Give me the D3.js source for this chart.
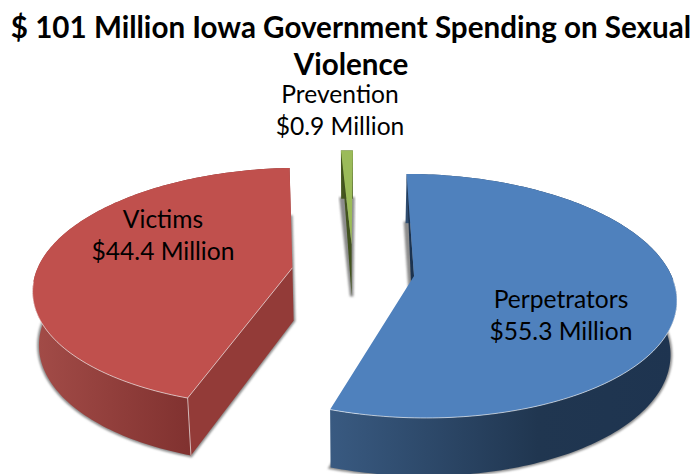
<!DOCTYPE html>
<html>
<head>
<meta charset="utf-8">
<script src="https://cdn.jsdelivr.net/npm/d3@7"></script>
<style>
  html, body { margin: 0; padding: 0; background: #fff; }
  text { font-family: Lato, "Open Sans", sans-serif; fill: #000; }
</style>
</head>
<body>
<svg id="chart" width="696" height="474"></svg>
<script>
// values as printed on the chart, in millions of dollars
var categories = ['Perpetrators', 'Victims', 'Prevention'];
var spending = [55.3, 44.4, 0.9];
var spendingLabels = ['$55.3 Million', '$44.4 Million', '$0.9 Million'];
var titleLines = ['$ 101 Million Iowa Government Spending on Sexual', 'Violence'];

var topColors = ['#4f81bd', '#c0504d', '#9bbb59'];
var wallStops = [
  [[0, '#395a81'], [0.6, '#203650'], [1, '#1e3450']],
  [[0, '#a34c48'], [0.6, '#813230'], [1, '#813230']],
  [[0, '#46581f'], [1, '#3c4c1b']]
];
var cutColors = ['#1c3350', '#933b38', '#41521e'];

// perspective pie settings
var cx = 353, cy = 271.5, radius = 256, yScale = 117.3, tilt = 0.162;
var explode = 0.24, depth = 53, shrink = 0.02, rotation = 0.005;

var svg = d3.select('#chart');
var defs = svg.append('defs');

defs.append('filter').attr('id', 'soft')
  .attr('x', '-20%').attr('y', '-20%').attr('width', '140%').attr('height', '140%')
  .append('feGaussianBlur').attr('stdDeviation', 1.3);

// u, v are in radius units on the pie plane, h=0 top face, h=1 bottom face
function project(u, v, h) {
  var s = 1 / (1 - tilt * v);
  return [
    cx + u * radius * s * (1 - shrink * h),
    cy + yScale * v * s + h * depth * Math.sqrt(s)
  ];
}

var pie = d3.pie().sort(null).startAngle(rotation).endAngle(2 * Math.PI + rotation);
var slices = pie(spending);
var line = d3.line();

function rim(d, h) {
  var mid = (d.startAngle + d.endAngle) / 2;
  var ox = explode * Math.sin(mid), oy = -explode * Math.cos(mid);
  var n = Math.max(2, Math.ceil((d.endAngle - d.startAngle) / 0.02));
  return d3.range(n + 1).map(function (i) {
    var a = d.startAngle + (d.endAngle - d.startAngle) * i / n;
    return project(ox + Math.sin(a), oy - Math.cos(a), h);
  });
}

function apex(d, h) {
  var mid = (d.startAngle + d.endAngle) / 2;
  return project(explode * Math.sin(mid), -explode * Math.cos(mid), h);
}

slices.forEach(function (d, i) {
  var grad = defs.append('linearGradient').attr('id', 'wall' + i);
  wallStops[i].forEach(function (st) {
    grad.append('stop').attr('offset', st[0]).attr('stop-color', st[1]);
  });
});

// back to front: green, red, blue
[2, 1, 0].forEach(function (i) {
  var d = slices[i];
  var g = svg.append('g').attr('class', 'slice').attr('data-name', categories[i]);
  var top = rim(d, 0), bottom = rim(d, 1);
  var A = apex(d, 0), A2 = apex(d, 1);
  var first = top[0];

  // soft grey shadow round the lower face
  g.append('path')
    .attr('d', line(bottom.concat([A2])) + 'Z')
    .attr('fill', '#8c8c8c')
    .attr('stroke', '#8c8c8c')
    .attr('stroke-width', 3.5)
    .attr('filter', 'url(#soft)');

  // outer curved wall
  g.append('path')
    .attr('d', line(top.concat(bottom.slice().reverse())) + 'Z')
    .attr('fill', 'url(#wall' + i + ')');

  // cut walls
  if (i === 1) {
    g.append('path')
      .attr('d', line([first, A, A2, bottom[0]]) + 'Z')
      .attr('fill', cutColors[i]);
  } else {
    g.append('path')
      .attr('d', line([first, A, A2]) + 'Z')
      .attr('fill', cutColors[i]);
  }

  // top face
  g.append('path')
    .attr('d', line(top.concat([A])) + 'Z')
    .attr('fill', topColors[i]);

  // bevel highlight along the near edge of the top
  var near = top.filter(function (p) { return p[1] > cy + 8; });
  if (i !== 2) {
    g.append('path')
      .attr('d', line(near))
      .attr('fill', 'none')
      .attr('stroke', '#fff')
      .attr('stroke-opacity', 0.6)
      .attr('stroke-width', 1);
  }
  if (i === 1) {
    g.append('path')
      .attr('d', line([A, first, bottom[0]]))
      .attr('fill', 'none')
      .attr('stroke', '#fff')
      .attr('stroke-opacity', 0.6)
      .attr('stroke-width', 1);
  }
});

// title
svg.selectAll('text.title')
  .data(titleLines)
  .enter().append('text')
  .attr('class', 'title')
  .attr('x', 351)
  .attr('y', function (d, i) { return 37.5 + i * 37; })
  .attr('text-anchor', 'middle')
  .attr('font-size', 29.6)
  .attr('font-weight', 700)
  .text(function (d) { return d; });

// slice labels
var labelSpots = [[561, 308], [163, 228], [340, 103]];
categories.forEach(function (c, i) {
  svg.append('text')
    .attr('x', labelSpots[i][0])
    .attr('y', labelSpots[i][1])
    .attr('text-anchor', 'middle')
    .attr('font-size', 24.6)
    .text(c);
  svg.append('text')
    .attr('x', labelSpots[i][0])
    .attr('y', labelSpots[i][1] + 31.5)
    .attr('text-anchor', 'middle')
    .attr('font-size', 24.6)
    .text(spendingLabels[i]);
});
</script>
</body>
</html>
